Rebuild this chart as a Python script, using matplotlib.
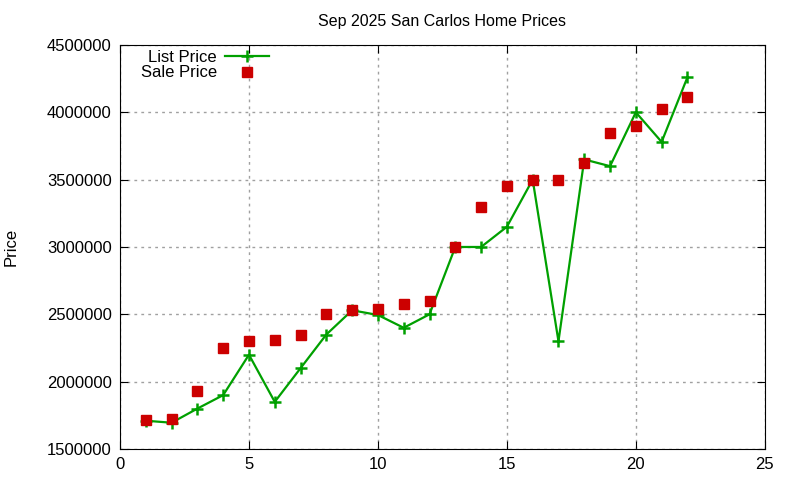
import matplotlib
matplotlib.use("Agg")
import matplotlib.pyplot as plt

plt.rcParams['font.family'] = ['Liberation Sans', 'DejaVu Sans']

# month index / listing number
idx = list(range(1, 23))
list_price = [1710000, 1695000, 1800000, 1900000, 2200000, 1850000, 2100000, 2350000,
              2530000, 2495000, 2400000, 2500000, 3000000, 3000000, 3150000, 3500000,
              2300000, 3650000, 3600000, 4000000, 3780000, 4260000]
sale_price = [1715000, 1722000, 1930000, 2250000, 2300000, 2310000, 2350000, 2500000,
              2530000, 2540000, 2580000, 2600000, 3000000, 3300000, 3450000, 3500000,
              3500000, 3624000, 3850000, 3900000, 4025000, 4114000]

fig = plt.figure(figsize=(8, 4.8), dpi=100)
ax = fig.add_axes([0.15, 0.0646, 0.806, 0.8417])

ax.plot(idx, list_price, color='#00a000', lw=1.6, marker='+', ms=8, mew=1.8,
        label='List Price', zorder=3)
ax.plot(idx, sale_price, ls='none', color='#cc0000', marker='s', ms=7,
        label='Sale Price', zorder=4)

ax.set_xlim(0, 25)
ax.set_ylim(1500000, 4500000)
ax.set_xticks([0, 5, 10, 15, 20, 25])
ax.set_yticks(range(1500000, 4500001, 500000))
ax.yaxis.set_major_formatter(matplotlib.ticker.FuncFormatter(lambda v, p: '%d' % v))
ax.tick_params(direction='in', top=True, right=True, labelsize=12, length=6, pad=6)
ax.grid(True, color='#a0a0a0', ls=(0, (2, 3)), lw=1)
ax.set_axisbelow(True)

ax.set_title('Sep 2025 San Carlos Home Prices', fontsize=11.5, pad=14)
ax.set_ylabel('Price', fontsize=12, labelpad=20)

ax.legend(loc='upper left', frameon=False, markerfirst=False, fontsize=12,
          handlelength=2.6, borderaxespad=0.0, labelspacing=0.05,
          bbox_to_anchor=(0.022, 1.005), handletextpad=0.5)

fig.savefig('out.png', dpi=100)
